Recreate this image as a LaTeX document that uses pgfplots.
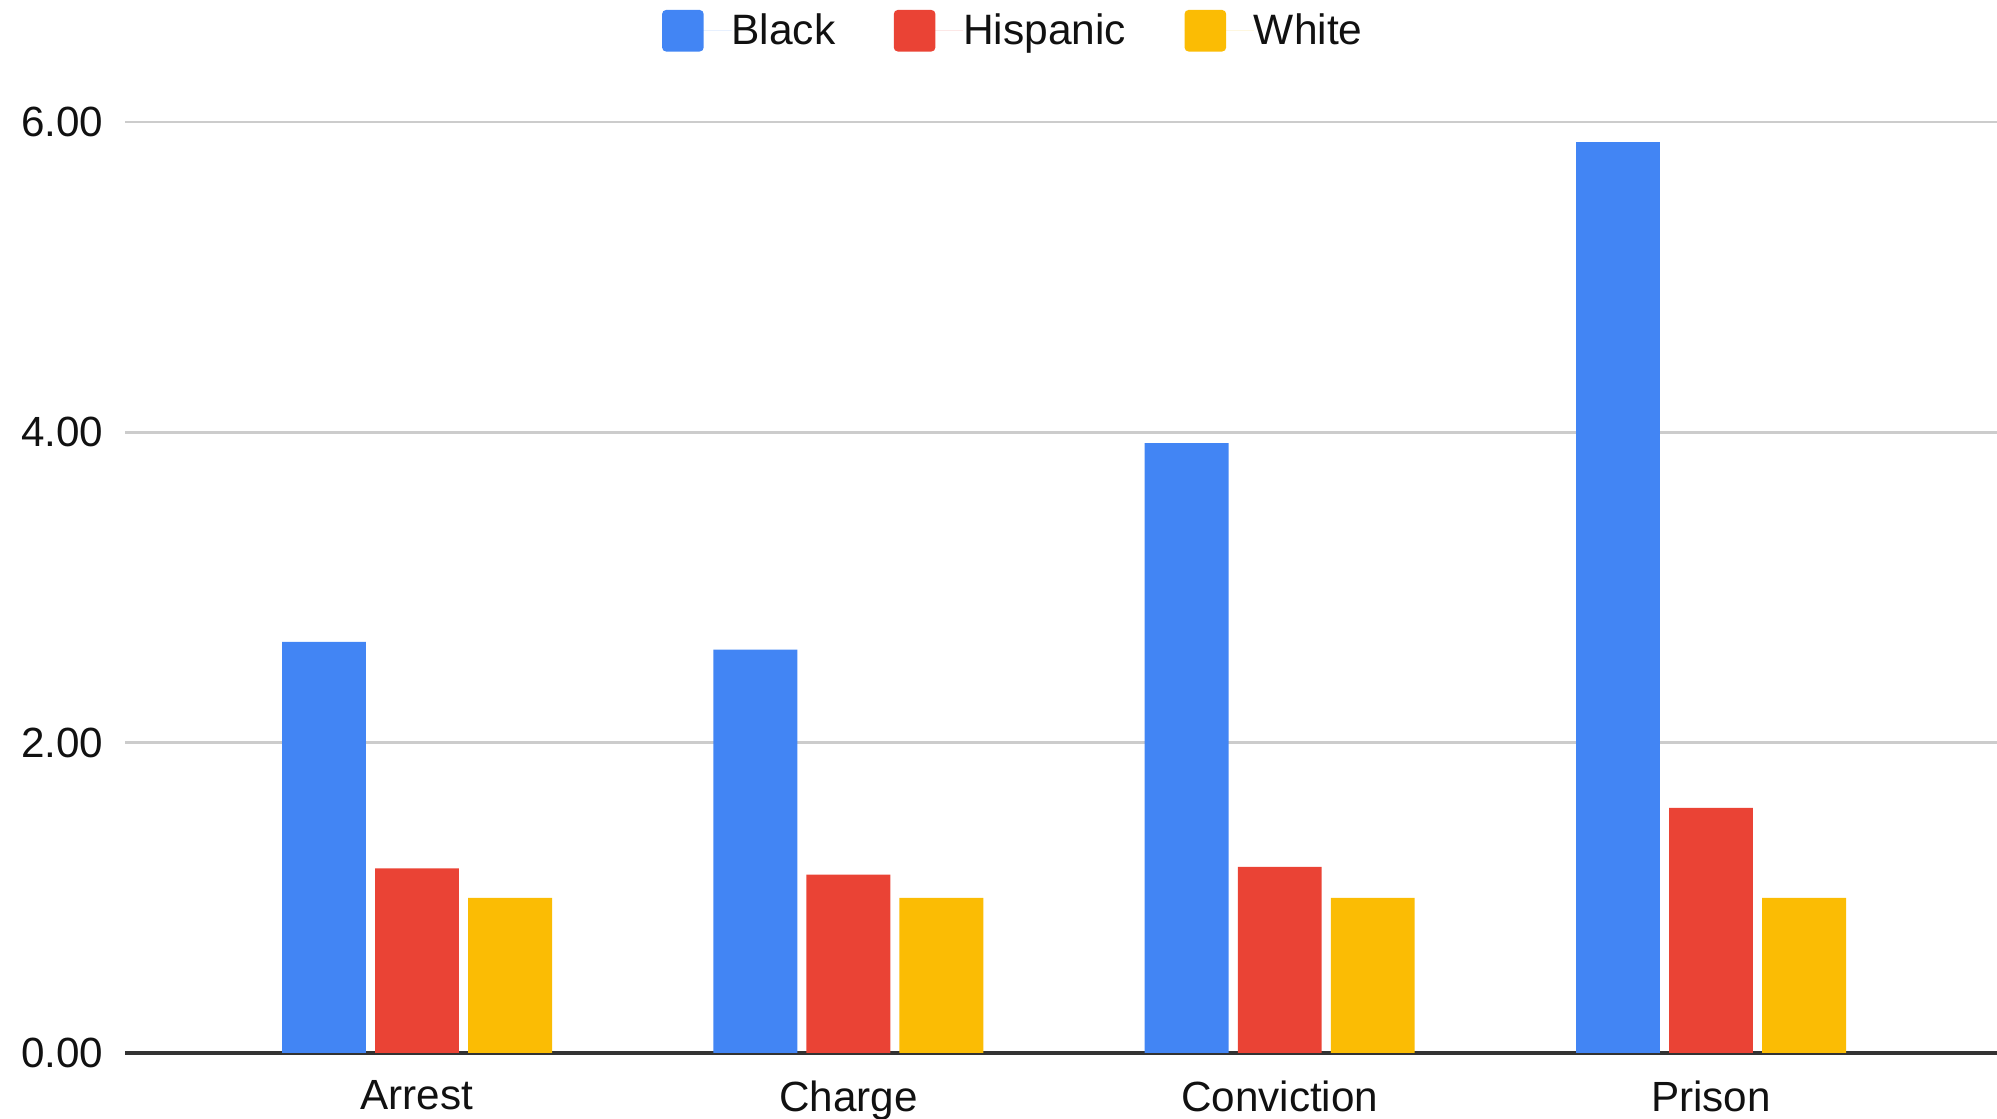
\documentclass[border=0pt]{standalone}
\usepackage{pgfplots}
\pgfplotsset{compat=1.18}
\usepackage{fontspec}
\setmainfont{Liberation Sans}
\definecolor{gblue}{HTML}{4285F4}
\definecolor{gred}{HTML}{EA4335}
\definecolor{gyellow}{HTML}{FBBC04}
\definecolor{ggrid}{HTML}{CCCCCC}
\definecolor{gaxis}{HTML}{333333}
\definecolor{gtext}{HTML}{111111}
\begin{document}
\begin{tikzpicture}
\path[use as bounding box] (-45pt,-23.76pt) rectangle (673.92pt,379.08pt);
\begin{axis}[
  at={(0,0)}, anchor=south west,
  scale only axis,
  width=673.92pt, height=335.16pt,
  xmin=-0.677, xmax=3.663,
  ymin=0, ymax=6,
  ybar=3.3pt, bar width=30.2pt,
  xtick={0,1,2,3},
  xticklabels={Arrest,Charge,Conviction,Prison},
  ytick={0,2,4,6},
  major tick length=0pt,
  ymajorgrids,
  grid style={ggrid, line width=0.9pt},
  axis x line*=bottom, axis y line*=left,
  x axis line style={gaxis, line width=1.1pt, -},
  y axis line style={draw=none},
  tick label style={font=\fontsize{15.2}{18}\selectfont, text=gtext},
  /pgf/number format/assume math mode=true,
  yticklabel={\pgfmathprintnumber[fixed, fixed zerofill, precision=2]{\tick}},
  yticklabel style={inner xsep=0pt, xshift=-7.6pt},
  xticklabel style={inner ysep=0pt, yshift=-9.7pt},
  legend columns=3,
  legend style={draw=none, fill=none, at={(0.474,1.098)}, anchor=center,
    font=\fontsize{15.3}{18}\selectfont, text=gtext,
    nodes={inner xsep=0pt, inner ysep=1pt},
    /tikz/every even column/.append style={column sep=21pt}},
  legend image code/.code={\fill[#1, rounded corners=1.5pt] (0pt,-7.5pt) rectangle (15pt,7.5pt); \path (0pt,0pt) -- (25pt,0pt);},
]
\addplot[fill=gblue, draw=none] coordinates {(0,2.65) (1,2.60) (2,3.93) (3,5.87)};
\addplot[fill=gred, draw=none] coordinates {(0,1.19) (1,1.15) (2,1.20) (3,1.58)};
\addplot[fill=gyellow, draw=none] coordinates {(0,1.00) (1,1.00) (2,1.00) (3,1.00)};
\legend{Black,Hispanic,White}
\end{axis}
\end{tikzpicture}
\end{document}
